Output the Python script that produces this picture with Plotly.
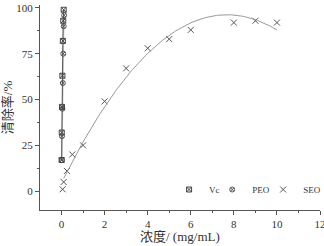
import numpy as np
import plotly.graph_objects as go

vc_x = [0.005, 0.01, 0.02, 0.04, 0.06, 0.08, 0.1]
vc_y = [17, 32, 46, 63, 82, 93, 99]
peo_x = [0.01, 0.02, 0.04, 0.06, 0.08, 0.1, 0.12]
peo_y = [17, 30, 45, 59, 75, 90, 96]
seo_x = [0.05, 0.1, 0.25, 0.5, 1, 2, 3, 4, 5, 6, 8, 9, 10]
seo_y = [1, 5, 11, 20, 25, 49, 67, 78, 83, 88, 92, 93, 92]

coef = np.polyfit(seo_x, seo_y, 2)
fx = np.linspace(0.1, 10, 100)
fy = np.polyval(coef, fx)

vc_marker = dict(symbol="square-x-open", size=5, color="#444444", line=dict(width=1))
peo_marker = dict(symbol="circle-x-open", size=5, color="#555555", line=dict(width=1))
seo_marker = dict(symbol="x-thin-open", size=6, color="#555555", line=dict(width=1))

fig = go.Figure()
fig.add_trace(go.Scatter(x=peo_x, y=peo_y, mode="lines+markers", showlegend=False,
                         line=dict(color="#c8c8c8", width=1.5), marker=peo_marker))
fig.add_trace(go.Scatter(x=vc_x, y=vc_y, mode="lines+markers", showlegend=False,
                         line=dict(color="#555555", width=1), marker=vc_marker))
fig.add_trace(go.Scatter(x=seo_x, y=seo_y, mode="markers", showlegend=False, marker=seo_marker))
fig.add_trace(go.Scatter(x=fx, y=fy, mode="lines", showlegend=False,
                         line=dict(color="#999999", width=1)))
# legend entries (markers only, as in the reference)
fig.add_trace(go.Scatter(x=[None], y=[None], mode="markers", name="Vc", marker=vc_marker, legend="legend"))
fig.add_trace(go.Scatter(x=[None], y=[None], mode="markers", name="PEO", marker=peo_marker, legend="legend2"))
fig.add_trace(go.Scatter(x=[None], y=[None], mode="markers", name="SEO", marker=seo_marker, legend="legend3"))

axis_common = dict(showgrid=False, zeroline=False, showline=True, linecolor="#555555",
                   linewidth=1, ticks="outside", ticklen=4, tickcolor="#555555",
                   tickfont=dict(family="Liberation Serif", size=11, color="#333333"),
                   automargin=False, ticklabeloverflow="allow")
fig.update_xaxes(range=[-1, 12], tickvals=[0, 2, 4, 6, 8, 10, 12],
                 minor=dict(tickvals=[1, 3, 5, 7, 9, 11], ticks="outside", ticklen=2, tickcolor="#555555"),
                 **axis_common)
fig.update_yaxes(range=[-10.3, 101.6], tickvals=[0, 25, 50, 75, 100],
                 minor=dict(tickvals=[12.5, 37.5, 62.5, 87.5], ticks="outside", ticklen=2, tickcolor="#555555"),
                 title=dict(text="清除率/%", font=dict(family="Liberation Serif, Noto Sans CJK SC", size=13, color="#333333"), standoff=6),
                 **axis_common)

fig.add_annotation(text="浓度/ (mg/mL)", xref="paper", yref="paper", x=0.5, y=-0.127,
                   xanchor="center", yanchor="middle", showarrow=False,
                   font=dict(family="Liberation Serif, Noto Sans CJK SC", size=13, color="#333333"))

leg_common = dict(orientation="h", xanchor="left", y=0.1, yanchor="middle",
                  font=dict(family="Liberation Serif", size=9, color="#333333"),
                  bgcolor="rgba(0,0,0,0)", itemwidth=30)
fig.update_layout(width=324, height=246, margin=dict(l=40, r=4, t=5, b=36, autoexpand=False),
                  paper_bgcolor="white", plot_bgcolor="white",
                  legend=dict(x=0.461, **leg_common),
                  legend2=dict(x=0.615, **leg_common),
                  legend3=dict(x=0.797, **leg_common))
fig.write_html("out.html", config={"displayModeBar": False},
               post_script="document.body.style.margin='0';document.body.style.padding='0';")
